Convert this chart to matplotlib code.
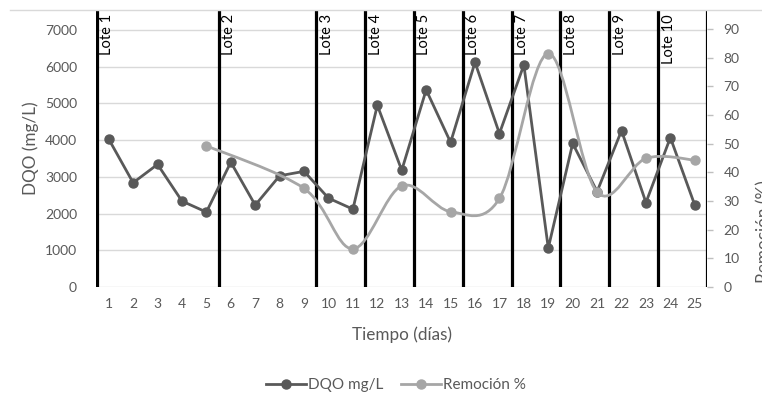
import numpy as np
import matplotlib as mpl
mpl.use('Agg')
import matplotlib.pyplot as plt
from matplotlib.path import Path
from matplotlib.patches import PathPatch
from matplotlib.lines import Line2D

plt.rcParams['font.family'] = ['Lato', 'DejaVu Sans']

dias = list(range(1, 26))
dqo = [4030, 2840, 3340, 2340, 2040, 3400, 2230, 3030, 3150, 2420, 2120,
       4950, 3180, 5370, 3940, 6120, 4180, 6050, 1060, 3910, 2600, 4260,
       2300, 4070, 2230]
rem_dias = [5, 9, 11, 13, 15, 17, 19, 21, 23, 25]
remocion = [49.3, 34.4, 13.3, 35.3, 26.3, 30.9, 81.5, 33.1, 44.9, 44.3]
lote_pos = [0.5, 5.5, 9.5, 11.5, 13.5, 15.5, 17.5, 19.5, 21.5, 23.5]
lote_nombres = ['Lote %d' % i for i in range(1, 11)]

gris_osc = '#595959'
gris_cla = '#a6a6a6'
txt = '#595959'

fig = plt.figure(figsize=(7.62, 3.94), dpi=100)
ax = fig.add_axes([96.5/762, 107/394, 610.5/762, 277/394])
ax2 = ax.twinx()

# gridlines + frame
for v in range(0, 8000, 1000):
    ax.axhline(v, color='#d9d9d9', lw=1, zorder=0)
for s in ['top', 'bottom', 'left', 'right']:
    ax.spines[s].set_visible(False)
    ax2.spines[s].set_visible(False)
fig.add_artist(Line2D([10/762, 1], [1 - 10/394, 1 - 10/394], color='#d9d9d9', lw=1))

# DQO
ax.plot(dias, dqo, color=gris_osc, lw=2, marker='o', ms=6.5, zorder=3)
ax.set_xlim(0.5, 25.5)
ax.set_ylim(0, 7545)
ax.set_yticks(range(0, 8000, 1000))
ax.set_xticks(dias)
ax.tick_params(length=0, colors=txt, labelsize=10)
ax.tick_params(axis='y', pad=14)
ax.tick_params(axis='x', pad=8)
ax.set_xlabel('Tiempo (días)', color=txt, fontsize=12.3, labelpad=12)
ax.set_ylabel('DQO (mg/L)', color=txt, fontsize=12.3, labelpad=4)

# lote lines
for p, n in zip(lote_pos + [25.5], lote_nombres + [None]):
    ax.axvline(p, color='black', lw=2.3, zorder=2)
    if n:
        ax.annotate(n, (p, 1), xycoords=('data', 'axes fraction'),
                    xytext=(2.5, -3), textcoords='offset points',
                    rotation=90, ha='left', va='top', fontsize=10.5, color='black')

# Remocion, smoothed (Catmull-Rom bezier like Excel)
x = np.array(rem_dias, float)
y = np.array(remocion, float)
xp = np.concatenate([[x[0]], x, [x[-1]]])
yp = np.concatenate([[y[0]], y, [y[-1]]])
verts = [(x[0], y[0])]
codes = [Path.MOVETO]
for i in range(len(x) - 1):
    c1 = (x[i] + (xp[i+2] - xp[i]) / 6, y[i] + (yp[i+2] - yp[i]) / 6)
    c2 = (x[i+1] - (xp[i+3] - xp[i+1]) / 6, y[i+1] - (yp[i+3] - yp[i+1]) / 6)
    verts += [c1, c2, (x[i+1], y[i+1])]
    codes += [Path.CURVE4] * 3
ax2.add_patch(PathPatch(Path(verts, codes), fc='none', ec=gris_cla, lw=2, zorder=3))
ax2.plot(rem_dias, remocion, ls='none', color=gris_cla, marker='o', ms=6.5, zorder=4)
ax2.set_ylim(0, 96.7)
ax2.set_yticks(range(0, 100, 10))
ax2.tick_params(length=4, width=1, color='#bfbfbf', colors=txt, labelsize=10, pad=8)
fig.text(764/762, 162/394, 'Remoción (%)', rotation=90, ha='center', va='center',
         color=txt, fontsize=12.3)

# legend
h1 = Line2D([], [], color=gris_osc, lw=2, marker='o', ms=6.5)
h2 = Line2D([], [], color=gris_cla, lw=2, marker='o', ms=6.5)
fig.legend([h1, h2], ['DQO mg/L', 'Remoción %'], loc='center', bbox_to_anchor=(396/762, 9/394),
           ncol=2, frameon=False, fontsize=11, labelcolor=txt, handlelength=2.6,
           handletextpad=0.1, columnspacing=1.2)

fig.savefig('out.png', dpi=100)
